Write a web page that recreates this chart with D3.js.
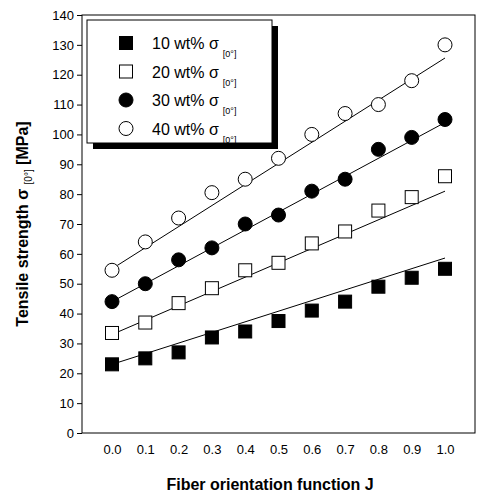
<!DOCTYPE html><html><head><script src="https://cdn.jsdelivr.net/npm/d3@7"></script>
<style>body{margin:0;background:#fff}text{font-family:Arial,"Liberation Sans",sans-serif;fill:#000}</style></head><body><svg width="483" height="500"></svg>
<script>
const J=[0,0.1,0.2,0.3,0.4,0.5,0.6,0.7,0.8,0.9,1.0];
const s10=[23,25,27,32,34,37.5,41,44,49,52,55];
const s20=[33.5,37,43.5,48.5,54.5,57,63.5,67.5,74.5,79,86];
const s30=[44,50,58,62,70,73,81,85,95,99,105];
const s40=[54.5,64,72,80.5,85,92,100,107,110,118,130];
const fit10=[23,58.6],fit20=[33,81],fit30=[44,104],fit40=[55,125.6];
const labels=["10 wt%","20 wt%","30 wt%","40 wt%"];
const yTicks=d3.range(0,141,10);
const svg=d3.select("svg");
const x=d3.scaleLinear().domain([0,1]).range([112,445]);
const y=d3.scaleLinear().domain([0,140]).range([433,15]);
svg.append("rect").attr("x",82).attr("y",15).attr("width",393).attr("height",418).attr("fill","none").attr("stroke","#000");
const ya=svg.append("g").attr("transform","translate(82,0)").call(d3.axisLeft(y).tickValues(yTicks).tickSize(5).tickSizeOuter(0));
ya.select(".domain").remove();
ya.selectAll("text").attr("font-size",13).attr("fill","#000");
const xa=svg.append("g").attr("transform","translate(0,433)").call(d3.axisBottom(x).tickValues(J).tickFormat(d3.format(".1f")).tickSize(0).tickPadding(12).tickSizeOuter(0));
xa.select(".domain").remove();
xa.selectAll("text").attr("font-size",13).attr("fill","#000");
svg.append("text").attr("x",270).attr("y",490).attr("text-anchor","middle").attr("font-weight","bold").attr("font-size",16).text("Fiber orientation function J");
const yt=svg.append("text").attr("transform","translate(28,224) rotate(-90)").attr("text-anchor","middle").attr("font-weight","bold").attr("font-size",16);
yt.append("tspan").text("Tensile strength  σ ");
yt.append("tspan").attr("font-size",10).attr("font-weight","normal").attr("dy",4).text("[0°]");
yt.append("tspan").attr("dy",-4).text(" [MPa]");
const series=[[s10,fit10,"sq",true],[s20,fit20,"sq",false],[s30,fit30,"c",true],[s40,fit40,"c",false]];
function mark(g,type,filled,cx,cy){
 if(type==="sq")g.append("rect").attr("x",cx-6.5).attr("y",cy-6.5).attr("width",13).attr("height",13).attr("fill",filled?"#000":"#fff").attr("stroke","#000");
 else g.append("circle").attr("cx",cx).attr("cy",cy).attr("r",7).attr("fill",filled?"#000":"#fff").attr("stroke","#000");
}
series.forEach(([d,f,t,fl])=>{
 svg.append("line").attr("x1",x(0)).attr("x2",x(1)).attr("y1",y(f[0])).attr("y2",y(f[1])).attr("stroke","#000");
});
series.forEach(([d,f,t,fl])=>{
 const g=svg.append("g");
 d.forEach((v,i)=>mark(g,t,fl,x(J[i]),y(v)));
});
svg.append("rect").attr("x",93).attr("y",26).attr("width",185).attr("height",123).attr("fill","#000");
svg.append("rect").attr("x",87).attr("y",20).attr("width",185).attr("height",123).attr("fill","#fff").attr("stroke","#000");
series.forEach(([d,f,t,fl],i)=>{
 const cy=43+i*28.5;
 mark(svg.append("g"),t,fl,126,cy);
 const tx=svg.append("text").attr("x",152).attr("y",cy+6).attr("font-size",16).text(labels[i]+" σ");
 tx.append("tspan").attr("font-size",9).attr("dy",8).attr("dx",4).text("[0°]");
});
</script></body></html>
